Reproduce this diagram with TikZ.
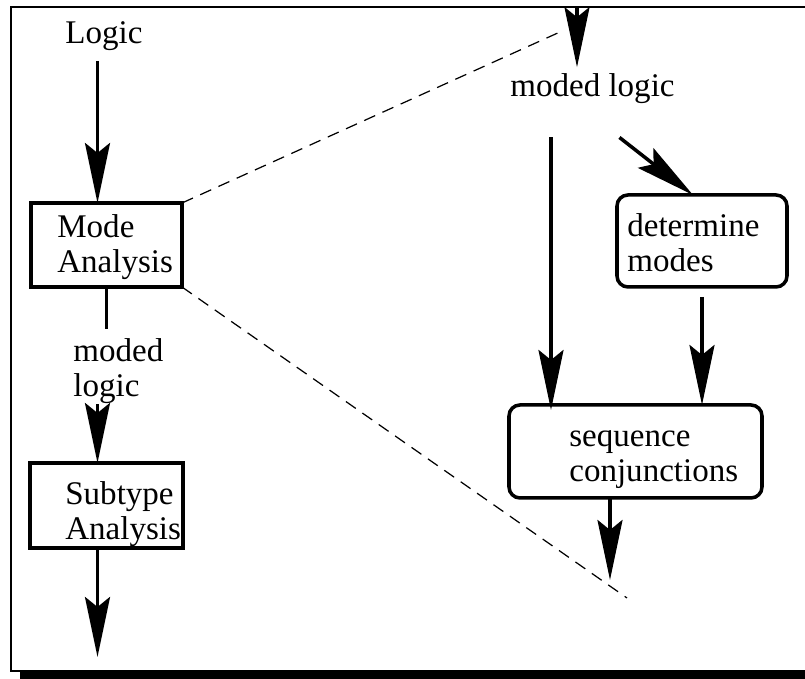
\documentclass[tikz,border=0pt]{standalone}
\usepackage{fontspec}
\setmainfont{Liberation Serif}
\usetikzlibrary{arrows.meta}

\begin{document}
\begin{tikzpicture}[scale=1,
    font=\fontsize{18.8}{20.2}\selectfont,
    flow/.style={line width=2pt, -{Stealth[length=1.2cm, width=0.5cm, inset=0.2cm]}},
    wire/.style={line width=2pt},
    caja/.style={draw, line width=2pt, inner sep=0pt, outer sep=0pt},
    redonda/.style={caja, rounded corners=0.22cm},
    texto/.style={inner sep=0pt, align=left, anchor=base west},
    zoomline/.style={line width=0.7pt, dash pattern=on 0.24cm off 0.16cm}]
    % Marco
    \useasboundingbox (0,0) rectangle (16.1,13.58);
    \clip (0,0) rectangle (16.1,13.58);
    \fill (0.4,-0.5) rectangle (17,0.13);
    \draw[line width=1.1pt] (0.22,0.16) rectangle (16.6,13.44);

    % Cajas
    \node[caja, minimum width=3.02cm, minimum height=1.68cm] (mode) at (2.13,8.68) {};
    \node[caja, minimum width=3.06cm, minimum height=1.70cm] (subtype) at (2.13,3.47) {};
    \node[redonda, minimum width=3.40cm, minimum height=1.84cm] (det) at (14.04,8.76) {};
    \node[redonda, minimum width=5.06cm, minimum height=1.86cm] (seq) at (12.71,4.55) {};

    % Textos (base = ultima linea)
    \node[texto] (logic) at (1.30,12.71) {Logic};
    \node[texto] (modetxt) at (1.14,8.12) {Mode\\Analysis};
    \node[texto] (mlogic) at (1.46,5.64) {moded\\logic};
    \node[texto] (subtxt) at (1.30,2.78) {Subtype\\Analysis};
    \node[texto] (mtop) at (10.20,11.64) {moded logic};
    \node[texto] (dettxt) at (12.54,8.14) {determine\\modes};
    \node[texto] (seqtxt) at (11.38,3.94) {sequence\\conjunctions};

    % Ejes de las flechas
    \coordinate (lx) at (1.95,0);
    \coordinate (rx) at (11.02,0);
    \coordinate (inR) at (11.54,13.44);
    \coordinate (fin) at (1.95,0.44);
    \coordinate (fin2) at (12.2,1.98);

    % Flechas izquierda
    \draw[flow] ([yshift=-2mm]logic.south -| lx) -- (mode.north -| lx);
    \draw[wire] (mode.south) -- ++(0,-0.84);
    \draw[flow] (mlogic.south -| lx) -- (subtype.north -| lx);
    \draw[flow] (subtype.south -| lx) -- (fin);

    % Flechas derecha
    \draw[flow] (inR) -- ([yshift=1.3mm]mtop.north -| inR);
    \draw[flow] ([yshift=-6.6mm]mtop.south -| rx) -- ([yshift=-1mm]seq.north -| rx);
    \draw[flow] ([xshift=5.4mm,yshift=-6.6mm]mtop.south) -- ([xshift=-1.8mm]det.north);
    \draw[flow] ([yshift=-2mm]det.south) -- (det.south |- seq.north);
    \draw[flow] (seq.south -| fin2) -- (fin2);

    % Lineas de zoom
    \coordinate (z1) at (11.2,12.94);
    \coordinate (z2) at (12.54,1.62);
    \draw[zoomline] (mode.north east) -- (z1);
    \draw[zoomline] (mode.south east) -- (z2);
\end{tikzpicture}
\end{document}
